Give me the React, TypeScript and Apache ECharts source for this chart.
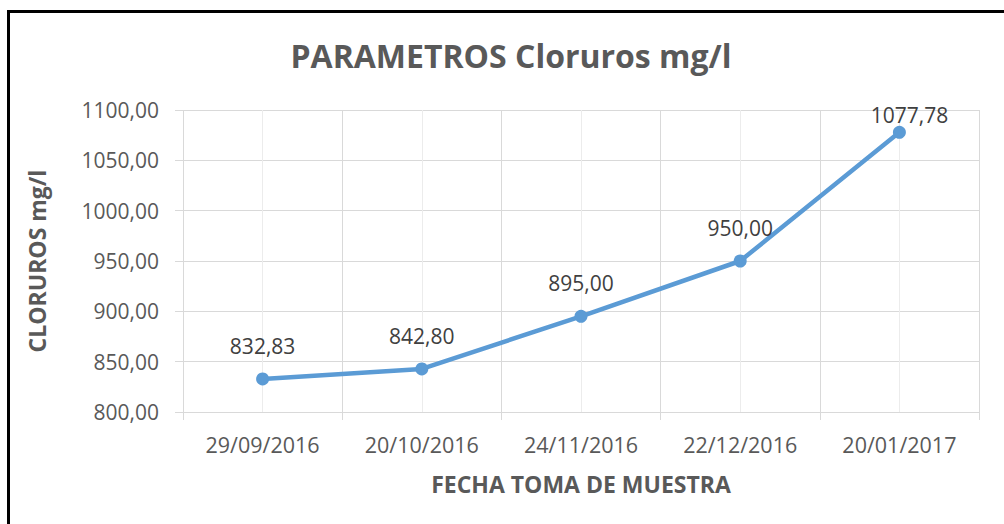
import React, { useEffect, useRef } from 'react';
import * as echarts from 'echarts';

const categories = ['29/09/2016', '20/10/2016', '24/11/2016', '22/12/2016', '20/01/2017'];
const cloruros = [832.83, 842.8, 895.0, 950.0, 1077.78];
const yMin = 800;
const yMax = 1100;
const yStep = 50;
const titleText = 'PARAMETROS Cloruros mg/l';
const xName = 'FECHA TOMA DE MUESTRA';
const yName = 'CLORUROS mg/l';

const fmt = (v: number) => v.toFixed(2).replace('.', ',');

export default function App() {
  const ref = useRef<HTMLDivElement>(null);
  useEffect(() => {
    const chart = echarts.init(ref.current!, null, { renderer: 'svg' });
    const font = "'Open Sans', sans-serif";
    const grey = '#595959';
    const gridCol = '#d9d9d9';
    chart.setOption({
      animation: false,
      backgroundColor: '#ffffff',
      textStyle: { fontFamily: font },
      title: {
        text: titleText,
        left: 511,
        top: 37,
        textAlign: 'center',
        padding: 0,
        textStyle: { fontSize: 32, fontWeight: 'bold', color: grey, fontFamily: font, lineHeight: 37 },
      },
      graphic: [
        {
          type: 'rect',
          shape: { x: 8.5, y: 11.5, width: 1200, height: 800 },
          style: { fill: 'none', stroke: '#000000', lineWidth: 3 },
          silent: true,
          z: 100,
        },
      ],
      grid: { left: 183, right: 25, top: 110, bottom: 112, containLabel: false },
      xAxis: {
        type: 'category',
        data: categories,
        boundaryGap: true,
        name: xName,
        nameLocation: 'middle',
        nameGap: 60,
        nameTextStyle: { fontSize: 23, fontWeight: 'bold', color: grey, fontFamily: font },
        axisLine: { show: true, lineStyle: { color: gridCol, width: 1 } },
        axisTick: { show: true, length: 8, lineStyle: { color: gridCol, width: 1 } },
        splitLine: { show: true, lineStyle: { color: gridCol, width: 1 } },
        axisLabel: { fontSize: 21.5, color: grey, margin: 21, fontFamily: font },
      },
      yAxis: {
        type: 'value',
        min: yMin,
        max: yMax,
        interval: yStep,
        name: yName,
        nameLocation: 'middle',
        nameGap: 135,
        nameTextStyle: { fontSize: 23, fontWeight: 'bold', color: grey, fontFamily: font },
        axisLine: { show: false },
        axisTick: { show: true, length: 8, lineStyle: { color: gridCol, width: 1 } },
        splitLine: { show: true, lineStyle: { color: gridCol, width: 1 } },
        axisLabel: { fontSize: 21, color: grey, margin: 24, fontFamily: font, formatter: (v: number) => fmt(v) },
      },
      series: [
        {
          type: 'line',
          z: 3,
          data: cloruros.map((v, i) =>
            i === cloruros.length - 1
              ? { value: v, label: { distance: 0, offset: [10, 0] } }
              : { value: v }
          ),
          symbol: 'circle',
          symbolSize: 13,
          lineStyle: { color: '#5b9bd5', width: 4.5 },
          itemStyle: { color: '#5b9bd5' },
          label: {
            show: true,
            position: 'top',
            distance: 16,
            fontSize: 21,
            color: '#404040',
            fontFamily: font,
            formatter: (p: any) => fmt(p.value as number),
          },
          markLine: {
            silent: true,
            z: 1,
            symbol: ['none', 'none'],
            label: { show: false },
            lineStyle: { color: '#ececec', width: 1, type: 'solid' },
            data: categories.map((c) => ({ xAxis: c })),
          },
        },
      ],
    });
    return () => chart.dispose();
  }, []);
  return <div ref={ref} style={{ position: 'absolute', left: 0, top: 0, width: 1004, height: 524 }} />;
}
